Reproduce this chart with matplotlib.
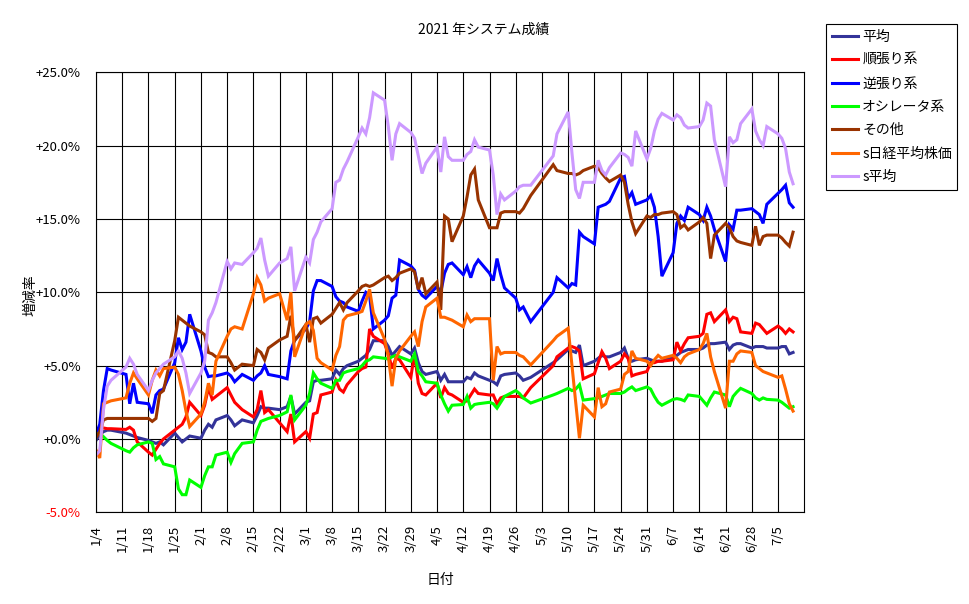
import datetime as dt
import matplotlib
matplotlib.use("Agg")
import matplotlib.pyplot as plt

plt.rcParams['font.family'] = ['Noto Sans CJK JP', 'DejaVu Sans']

# trading days of 2021 (Tokyo), by month
month_days = {
    1: [4, 5, 6, 7, 8, 12, 13, 14, 15, 18, 19, 20, 21, 22, 25, 26, 27, 28, 29],
    2: [1, 2, 3, 4, 5, 8, 9, 10, 12, 15, 16, 17, 18, 19, 22, 24, 25, 26],
    3: [1, 2, 3, 4, 5, 8, 9, 10, 11, 12, 15, 16, 17, 18, 19, 22, 23, 24, 25, 26, 29, 30, 31],
    4: [1, 2, 5, 6, 7, 8, 9, 12, 13, 14, 15, 16, 19, 20, 21, 22, 23, 26, 27, 28, 30],
    5: [6, 7, 10, 11, 12, 13, 14, 17, 18, 19, 20, 21, 24, 25, 26, 27, 28, 31],
    6: [1, 2, 3, 4, 7, 8, 9, 10, 11, 14, 15, 16, 17, 18, 21, 22, 23, 24, 25, 28, 29, 30],
    7: [1, 2, 5, 6, 7, 8, 9],
}
dates = [dt.date(2021, m, d) for m, days in month_days.items() for d in days]

# cumulative change, %
heikin = [
    -0.1, 0.3, 0.5, 0.6, 0.6, 0.4, 0.3, 0.2, 0.1, -0.1, -0.2, -0.3, -0.2, -0.4, 0.4, 0.1, -0.2, 0.0, 0.2,
    0.05, 0.6, 1.0, 0.8, 1.3, 1.6, 1.3, 0.9, 1.3, 1.1, 1.6, 2.2, 2.1, 2.1, 2.0, 2.2, 2.9, 1.7,
    2.5, 2.6, 3.9, 4.0, 4.0, 4.1, 4.7, 4.4, 4.8, 5.0, 5.3, 5.5, 5.7, 6.1, 6.7, 6.7, 6.3, 5.7, 6.0, 6.3, 5.8, 6.2, 5.2,
    4.6, 4.4, 4.6, 4.0, 4.4, 3.9, 3.9, 3.9, 4.2, 4.1, 4.5, 4.3, 4.0, 3.9, 3.7, 4.3, 4.4, 4.5, 4.3, 4.0, 4.2,
    5.2, 5.4, 6.1, 6.0, 5.9, 6.4, 5.0, 5.3, 5.5, 5.7, 5.6, 5.6, 5.9, 6.2, 5.5, 5.3, 5.4, 5.5,
    5.4, 5.3, 5.3, 5.3, 5.6, 5.7, 5.9, 6.0, 6.1, 6.1, 6.2, 6.4, 6.5, 6.5, 6.6, 6.1, 6.4, 6.5, 6.5, 6.2, 6.3, 6.3,
    6.3, 6.2, 6.2, 6.3, 6.3, 5.8, 5.9,
]
junbari = [
    0.7, 0.7, 0.75, 0.7, 0.7, 0.65, 0.8, 0.6, -0.2, -0.9, -1.1, -0.7, -0.3, 0.0, 0.6, 0.8, 1.0, 1.5, 2.5,
    1.6, 2.3, 3.5, 2.7, 2.9, 3.5, 3.0, 2.5, 2.0, 1.5, 2.0, 3.3, 1.8, 2.0, 1.1, 0.5, 1.7, -0.2,
    0.5, 0.05, 1.7, 1.8, 3.0, 3.2, 4.0, 3.4, 3.2, 3.7, 4.6, 4.8, 4.9, 7.5, 7.0, 6.5, 5.8, 4.8, 5.5, 5.4, 4.2, 5.8, 3.8,
    3.1, 3.0, 3.8, 2.8, 3.5, 3.1, 3.0, 2.5, 2.6, 3.0, 3.4, 3.1, 3.0, 3.0, 2.4, 2.8, 2.9, 2.9, 2.9, 2.8, 3.5,
    5.0, 5.6, 6.2, 6.3, 6.2, 6.0, 4.1, 4.45, 5.2, 5.95, 5.5, 4.8, 5.3, 5.8, 5.5, 4.3, 4.4, 4.6,
    5.2, 5.2, 5.3, 5.3, 5.4, 6.6, 6.0, 6.5, 6.9, 7.0, 7.2, 8.5, 8.6, 8.0, 8.8, 8.0, 8.3, 8.2, 7.3, 7.2, 7.9, 7.8,
    7.5, 7.2, 7.7, 7.5, 7.2, 7.5, 7.3,
]
gyakubari = [
    0.3, 1.0, 3.3, 4.8, 4.7, 4.4, 2.4, 3.8, 2.5, 2.4, 1.75, 3.0, 3.3, 3.4, 5.2, 6.9, 6.1, 6.6, 8.5,
    6.0, 4.9, 4.25, 4.3, 4.3, 4.5, 4.3, 3.9, 4.4, 4.0, 4.3, 4.5, 5.0, 4.4, 4.25, 4.1, 6.0, 6.75,
    7.5, 8.0, 10.1, 10.8, 10.8, 10.4, 9.7, 9.4, 9.3, 9.0, 8.7, 9.4, 10.0, 9.8, 7.5, 8.1, 8.4, 9.6, 9.8, 12.2, 11.8, 11.5, 10.2,
    9.8, 9.6, 10.4, 10.0, 11.3, 11.9, 12.0, 11.2, 11.75, 11.0, 11.8, 12.2, 11.3, 10.8, 12.3, 11.2, 10.3, 9.6, 8.8, 9.0, 8.0,
    10.0, 11.0, 10.3, 10.6, 10.5, 14.1, 13.8, 13.3, 15.8, 15.9, 16.0, 16.2, 17.8, 17.9, 16.4, 16.8, 16.0, 16.3,
    16.6, 15.8, 13.8, 11.1, 12.7, 14.7, 15.2, 14.9, 15.8, 15.3, 14.9, 15.8, 15.2, 14.3, 12.1, 14.6, 14.3, 15.6, 15.6, 15.7, 15.5, 15.3,
    14.7, 16.0, 16.75, 17.0, 17.3, 16.1, 15.8,
]
oscillator = [
    0.3, 0.4, 0.15, -0.1, -0.3, -0.8, -0.9, -0.6, -0.4, -0.2, -0.3, -1.4, -1.2, -1.7, -1.9, -3.4, -3.8, -3.8, -2.8,
    -3.3, -2.5, -1.9, -1.9, -1.1, -0.9, -1.6, -1.0, -0.3, -0.2, 0.6, 1.2, 1.3, 1.4, 1.6, 1.85, 3.0, 1.3,
    2.3, 3.1, 4.5, 4.1, 3.8, 3.45, 4.0, 4.0, 4.5, 4.6, 4.8, 5.0, 5.3, 5.4, 5.6, 5.5, 5.45, 5.6, 5.7, 5.6, 5.3, 5.8, 4.6,
    4.3, 3.9, 3.8, 3.0, 2.4, 1.9, 2.3, 2.35, 2.9, 2.1, 2.35, 2.4, 2.5, 2.4, 2.1, 2.5, 2.9, 3.3, 3.1, 2.8, 2.45,
    3.0, 3.1, 3.45, 3.3, 3.4, 3.7, 2.65, 2.75, 2.8, 2.9, 3.0, 3.1, 3.1, 3.2, 3.4, 3.55, 3.3, 3.55,
    3.4, 2.9, 2.5, 2.3, 2.7, 2.75, 2.7, 2.6, 3.0, 2.9, 2.6, 2.3, 2.8, 3.2, 3.0, 2.2, 2.9, 3.2, 3.45, 3.1, 2.8, 2.65,
    2.8, 2.7, 2.65, 2.5, 2.3, 2.1, 2.2,
]
sonota = [
    0.1, 0.5, 1.3, 1.4, 1.4, 1.4, 1.4, 1.4, 1.4, 1.4, 1.2, 1.4, 3.1, 3.3, 6.7, 8.3, 8.1, 7.9, 7.7,
    7.3, 7.1, 5.9, 5.8, 5.6, 5.6, 5.2, 4.7, 5.1, 5.0, 6.1, 5.9, 5.4, 6.2, 6.75, 7.0, 8.4, 6.7,
    7.8, 6.6, 8.2, 8.3, 7.9, 8.5, 8.9, 9.3, 8.8, 9.3, 10.1, 10.4, 10.5, 10.4, 10.5, 11.0, 11.1, 10.8, 11.0, 11.3, 11.6, 11.4, 10.2,
    11.0, 9.9, 10.7, 8.8, 15.2, 15.0, 13.45, 15.2, 16.5, 18.0, 18.4, 16.3, 14.4, 14.4, 14.4, 15.4, 15.5, 15.5, 15.4, 15.7, 16.6,
    18.7, 18.3, 18.1, 18.1, 18.0, 18.1, 18.3, 18.6, 18.5, 18.1, 17.8, 17.55, 18.0, 17.5, 16.0, 14.8, 14.0, 15.2,
    15.1, 15.3, 15.3, 15.4, 15.5, 15.3, 14.4, 14.6, 14.25, 14.8, 15.1, 14.7, 12.3, 13.9, 14.7, 14.4, 13.8, 13.5, 13.4, 13.2, 14.5, 13.2,
    13.8, 13.9, 13.9, 13.7, 13.4, 13.15, 14.1,
]
s_nikkei = [
    -0.75, -1.3, 2.4, 2.5, 2.6, 2.8, 3.8, 4.5, 4.1, 3.0, 4.0, 4.7, 4.3, 4.8, 4.9, 4.4, 3.3, 1.9, 0.85,
    1.7, 2.5, 3.8, 3.0, 5.3, 7.0, 7.5, 7.65, 7.5, 9.9, 11.0, 10.5, 9.4, 9.6, 9.9, 8.1, 10.0, 5.6,
    7.8, 8.0, 7.4, 5.5, 5.2, 4.7, 5.7, 6.3, 8.1, 8.4, 8.6, 8.7, 9.4, 10.2, 8.6, 6.8, 5.6, 3.6, 5.5, 6.0, 7.0, 7.3, 6.3,
    8.0, 9.0, 9.6, 8.3, 8.3, 8.2, 8.1, 7.65, 8.45, 8.0, 8.2, 8.2, 8.2, 4.0, 6.3, 5.8, 5.9, 5.9, 5.7, 5.6, 5.05,
    6.7, 7.0, 7.55, 5.0, 2.5, 0.05, 2.3, 1.5, 3.5, 2.2, 2.4, 3.2, 3.4, 4.4, 4.6, 6.0, 5.5, 5.3,
    5.0, 5.4, 5.7, 5.5, 5.7, 5.5, 5.2, 5.6, 5.8, 6.1, 6.5, 7.2, 5.6, 4.6, 2.1, 5.3, 5.3, 5.8, 6.0, 5.9, 5.0, 4.8,
    4.6, 4.5, 4.2, 4.3, 3.4, 2.4, 1.9,
]
s_heikin = [
    -1.1, -0.8, 2.0, 3.6, 4.0, 4.9, 5.5, 5.1, 4.4, 3.3, 4.0, 4.5, 4.8, 5.1, 5.6, 6.0, 5.5, 4.5, 3.1,
    4.5, 5.3, 8.1, 8.6, 9.3, 12.1, 11.6, 12.0, 11.9, 12.7, 13.0, 13.7, 12.2, 11.1, 12.0, 12.3, 13.1, 10.1,
    12.4, 12.0, 13.6, 14.1, 14.8, 15.7, 17.5, 17.65, 18.4, 18.9, 20.6, 21.2, 20.8, 21.9, 23.6, 23.1, 21.3, 19.0, 20.8, 21.5, 20.9, 20.5, 19.3,
    18.1, 18.8, 19.9, 18.2, 20.6, 19.25, 19.0, 19.0, 19.4, 19.6, 20.4, 19.9, 19.7, 18.0, 15.3, 16.7, 16.3, 16.9, 17.2, 17.3, 17.3,
    19.3, 20.8, 22.3, 19.5, 17.0, 16.4, 17.5, 17.5, 19.0, 18.3, 18.0, 18.5, 19.5, 19.4, 19.2, 18.6, 21.0, 19.1,
    19.8, 21.0, 21.8, 22.2, 21.75, 22.1, 21.9, 21.4, 21.2, 21.3, 21.75, 22.9, 22.7, 20.4, 17.2, 20.6, 20.2, 20.4, 21.5, 22.5, 21.0, 20.4,
    20.0, 21.3, 20.8, 20.5, 19.8, 18.2, 17.4,
]

labels = ["平均", "順張り系", "逆張り系", "オシレータ系", "その他", "s日経平均株価", "s平均"]
colors = ["#333399", "#FF0000", "#0000FF", "#00FF00", "#993300", "#FF6600", "#CC99FF"]
values = [heikin, junbari, gyakubari, oscillator, sonota, s_nikkei, s_heikin]

W, H = 970, 604
fig = plt.figure(figsize=(W / 100, H / 100), dpi=100)
ax = fig.add_axes([96 / W, 1 - 512.3 / H, (804.3 - 96) / W, (512.3 - 72.3) / H])

for lab, col, vals in zip(labels, colors, values):
    ax.plot(dates, vals, color=col, lw=2.2, label=lab, solid_joinstyle="miter")

start = dt.date(2021, 1, 4)
ax.set_xlim(start, start + dt.timedelta(days=189))
ax.set_ylim(-5, 25)

ticks = [start + dt.timedelta(days=7 * i) for i in range(27)]
ax.set_xticks(ticks)
ax.set_xticklabels([f"{t.month}/{t.day}" for t in ticks], rotation=90, fontsize=9.5)

yt = list(range(-5, 26, 5))
ax.set_yticks(yt)
ax.set_yticklabels([f"{v:+.1f}%" for v in yt], fontsize=9.5)
for lbl, v in zip(ax.get_yticklabels(), yt):
    if v < 0:
        lbl.set_color("red")

ax.tick_params(length=0)
ax.tick_params(axis="x", pad=9)
ax.tick_params(axis="y", pad=11)
ax.grid(True, color="black", lw=0.8)
ax.set_axisbelow(True)
for sp in ax.spines.values():
    sp.set_color("black")
    sp.set_linewidth(0.8)

fig.text(484 / W, 1 - 30 / H, "2021 年システム成績", ha="center", va="center", fontsize=10)
fig.text(440 / W, 1 - 580 / H, "日付", ha="center", va="center", fontsize=10)
fig.text(30 / W, 1 - 295 / H, "増減率", ha="center", va="center", rotation=90, fontsize=10)

leg = fig.legend(loc="upper left", bbox_to_anchor=(826 / W, 1 - 24 / H),
                 fancybox=False, edgecolor="black", framealpha=1,
                 handlelength=1.9, handletextpad=0.3, labelspacing=0.68,
                 borderpad=0.4, borderaxespad=0, fontsize=10)
leg.get_frame().set_linewidth(0.8)
for line in leg.get_lines():
    line.set_linewidth(2.2)

fig.savefig("out.png", dpi=100)
